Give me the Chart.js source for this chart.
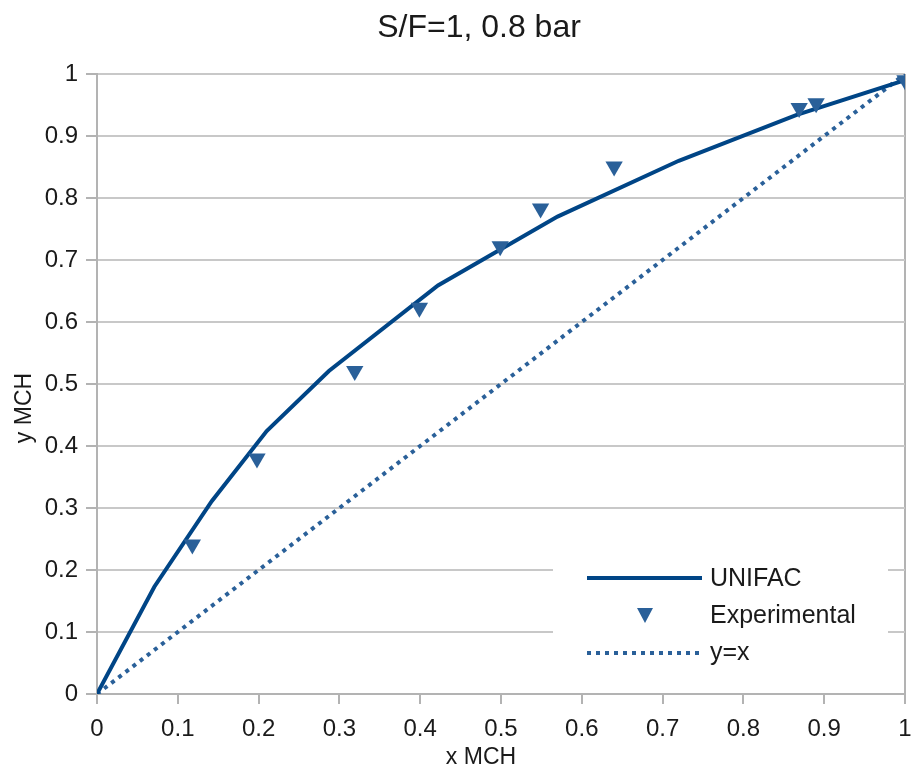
<!DOCTYPE html>
<html>
<head>
<meta charset="utf-8">
<script src="https://cdn.jsdelivr.net/npm/chart.js@4"></script>
<style>
  html, body { margin: 0; padding: 0; background: #fff; }
  #wrap { width: 915px; height: 771px; }
</style>
</head>
<body>
<div id="wrap"><canvas id="chart" width="915" height="771"></canvas></div>
<script>
// UNIFAC curve (x, y)
const unifacX = [0, 0.071, 0.142, 0.21, 0.287, 0.422, 0.57, 0.72, 0.866, 1.0];
const unifacY = [0, 0.173, 0.311, 0.424, 0.521, 0.659, 0.77, 0.86, 0.934, 0.99];

// experimental points
const expX = [0.118, 0.198, 0.319, 0.399, 0.499, 0.549, 0.640, 0.869, 0.890, 1.0];
const expY = [0.241, 0.380, 0.521, 0.623, 0.722, 0.783, 0.851, 0.945, 0.953, 0.99];

// diagonal
const diagX = [0, 1];
const diagY = [0, 1];

const seriesNames = ['UNIFAC', 'Experimental', 'y=x'];
const titleText = 'S/F=1, 0.8 bar';
const xTitle = 'x MCH';
const yTitle = 'y MCH';

const toPts = (xs, ys) => xs.map((x, i) => ({ x: x, y: ys[i] }));

const FONT = '"Liberation Sans", Arial, sans-serif';
const TXT = '#1a1a1a';
const lineBlue = '#004586';
const markBlue = '#2a6099';
const gridGrey = '#b3b3b3';

// title, legend inside the plot (bottom right), axis titles
const extras = {
  id: 'extras',
  afterDatasetsDraw(chart) {
    const ctx = chart.ctx;
    ctx.save();
    ctx.fillStyle = '#fff';
    ctx.fillRect(553, 556, 335, 118);
    ctx.font = '25px ' + FONT;
    ctx.textBaseline = 'middle';
    ctx.textAlign = 'left';
    // UNIFAC
    ctx.strokeStyle = lineBlue;
    ctx.lineWidth = 4;
    ctx.beginPath(); ctx.moveTo(587, 578); ctx.lineTo(702, 578); ctx.stroke();
    ctx.fillStyle = TXT;
    ctx.fillText(seriesNames[0], 710, 579);
    // Experimental
    ctx.fillStyle = markBlue;
    ctx.beginPath();
    ctx.moveTo(637, 608); ctx.lineTo(653, 608); ctx.lineTo(645, 623); ctx.closePath();
    ctx.fill();
    ctx.fillStyle = TXT;
    ctx.fillText(seriesNames[1], 710, 616);
    // y=x
    ctx.strokeStyle = markBlue;
    ctx.setLineDash([4, 5]);
    ctx.beginPath(); ctx.moveTo(587, 653); ctx.lineTo(700, 653); ctx.stroke();
    ctx.setLineDash([]);
    ctx.fillText(seriesNames[2], 710, 653);

    // chart title
    ctx.textAlign = 'center';
    ctx.font = '32px ' + FONT;
    ctx.fillText(titleText, 479, 28);

    // axis titles
    ctx.font = '23px ' + FONT;
    ctx.fillText(xTitle, 481, 758);
    ctx.translate(25, 408);
    ctx.rotate(-Math.PI / 2);
    ctx.fillText(yTitle, 0, 0);
    ctx.restore();
  }
};

const fmt = (v) => String(Number(v.toFixed(1)));

new Chart(document.getElementById('chart').getContext('2d'), {
  type: 'scatter',
  data: {
    datasets: [
      {
        label: seriesNames[0],
        data: toPts(unifacX, unifacY),
        showLine: true,
        borderColor: lineBlue,
        borderWidth: 4,
        pointRadius: 0,
        tension: 0,
        order: 2
      },
      {
        label: seriesNames[1],
        data: toPts(expX, expY),
        showLine: false,
        pointStyle: 'triangle',
        rotation: 180,
        pointRadius: 10,
        backgroundColor: markBlue,
        borderColor: markBlue,
        borderWidth: 0,
        order: 1
      },
      {
        label: seriesNames[2],
        data: toPts(diagX, diagY),
        showLine: true,
        borderColor: markBlue,
        borderWidth: 4,
        borderDash: [4, 5],
        pointRadius: 0,
        order: 3
      }
    ]
  },
  options: {
    responsive: false,
    animation: false,
    layout: { padding: { left: 0, right: 5, top: 74, bottom: 0 } },
    plugins: {
      legend: { display: false },
      tooltip: { enabled: false },
      title: { display: false }
    },
    scales: {
      x: {
        type: 'linear',
        min: 0,
        max: 1,
        afterFit: (s) => { s.height = 77; s.paddingLeft = 0; s.paddingRight = 0; },
        ticks: {
          stepSize: 0.1,
          color: TXT,
          font: { family: FONT, size: 24 },
          padding: 11,
          maxRotation: 0,
          callback: fmt
        },
        grid: {
          color: (c) => (c.tick && c.tick.value === 1 ? gridGrey : 'rgba(0,0,0,0)'),
          tickColor: gridGrey,
          tickLength: 10,
          lineWidth: 2
        },
        border: { color: gridGrey, width: 2 }
      },
      y: {
        type: 'linear',
        min: 0,
        max: 1,
        afterFit: (s) => { s.width = 97; s.paddingTop = 0; s.paddingBottom = 0; },
        ticks: {
          stepSize: 0.1,
          color: TXT,
          font: { family: FONT, size: 24 },
          padding: 8,
          callback: fmt
        },
        grid: {
          color: '#c8c8c8',
          tickColor: gridGrey,
          tickLength: 11,
          lineWidth: 2
        },
        border: { color: gridGrey, width: 2 }
      }
    }
  },
  plugins: [extras]
});
</script>
</body>
</html>
